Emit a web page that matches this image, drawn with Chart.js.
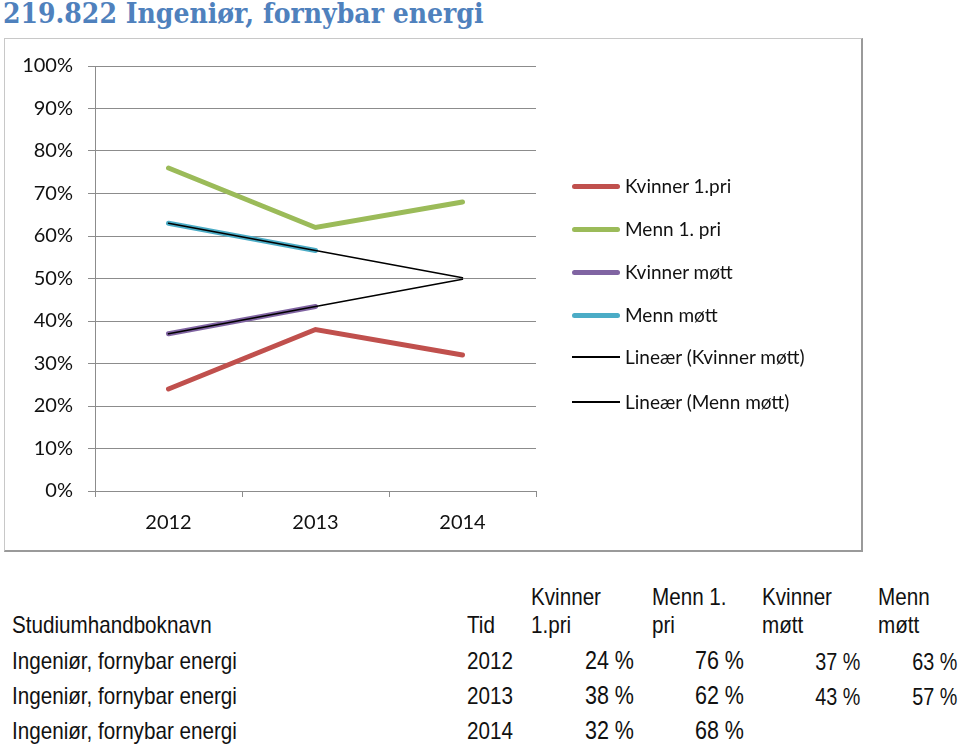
<!DOCTYPE html>
<html>
<head>
<meta charset="utf-8">
<script src="https://cdn.jsdelivr.net/npm/chart.js@4.4.1/dist/chart.umd.min.js"></script>
<style>
  body { margin: 0; background: #fff; }
  #page { position: relative; width: 960px; height: 745px; overflow: hidden; }
  #title {
    position: absolute; left: 3px; top: -3px; white-space: nowrap;
    font-family: "DejaVu Serif Condensed", "DejaVu Serif", serif; font-weight: bold;
    font-size: 28px; color: #4f81bd;
  }
  #frame {
    position: absolute; left: 4px; top: 38px; width: 856px; height: 511px;
    border-left: 1px solid #c8c8c8; border-top: 1px solid #c8c8c8;
    border-right: 2px solid #9a9a9a; border-bottom: 2px solid #9a9a9a;
  }
  #chart { position: absolute; left: 5px; top: 39px; }
  .leg { position: absolute; left: 572px; font-family: Lato, sans-serif; font-size: 19px; color: #111; }
  .leg i { position: absolute; left: 0; width: 48px; border-radius: 3px; }
  .leg span { position: absolute; left: 53px; top: -12px; white-space: nowrap; }
  .cell { position: absolute; white-space: nowrap; line-height: 1;
    font-family: "Liberation Sans", Arial, sans-serif; color: #111; }
</style>
</head>
<body>
<div id="page">
  <div id="title">219.822 Ingeniør, fornybar energi</div>
  <div id="frame"></div>
  <canvas id="chart" width="855" height="510"></canvas>
  <div id="legend"></div>
  <div id="table"></div>
</div>
<script>
// chart data
const years = ['2012', '2013', '2014'];
const kvinner1pri = [24, 38, 32];
const menn1pri = [76, 62, 68];
const kvinnerMott = [37.0, 43.4, null];
const mennMott = [63.0, 56.6, null];
const trendKvinner = [37.0, 43.4, 49.8];
const trendMenn = [63.0, 56.6, 50.2];
const yTicks = [0, 10, 20, 30, 40, 50, 60, 70, 80, 90, 100];

const seriesNames = ['Kvinner 1.pri', 'Menn 1. pri', 'Kvinner møtt', 'Menn møtt', 'Lineær (Kvinner møtt)', 'Lineær (Menn møtt)'];
const seriesColors = ['#c0504d', '#9bbb59', '#8064a2', '#4bacc6', '#000000', '#000000'];
const studyName = 'Ingeniør, fornybar energi';

function lineSet(i, data, width, order) {
    return {
        label: seriesNames[i],
        data: data,
        borderColor: seriesColors[i],
        borderWidth: width,
        borderCapStyle: 'round',
        pointRadius: 0,
        tension: 0,
        spanGaps: false,
        order: order
    };
}

new Chart(document.getElementById('chart'), {
    type: 'line',
    data: {
        labels: years,
        datasets: [
            lineSet(0, kvinner1pri, 5, 5),
            lineSet(1, menn1pri, 5, 5),
            lineSet(2, kvinnerMott, 5, 5),
            lineSet(3, mennMott, 5, 5),
            lineSet(4, trendKvinner, 1.5, 1),
            lineSet(5, trendMenn, 1.5, 1)
        ]
    },
    options: {
        responsive: false,
        animation: false,
        layout: { padding: { left: 15, top: 24, right: 324, bottom: 15 } },
        plugins: { legend: { display: false }, tooltip: { enabled: false } },
        scales: {
            x: {
                offset: true,
                grid: { offset: true, drawOnChartArea: false, tickLength: 6, color: '#8c8c8c' },
                border: { color: '#8c8c8c' },
                ticks: { color: '#111', padding: 14, font: { family: 'Lato', size: 20 } },
                afterFit: s => { s.height = 43; }
            },
            y: {
                min: 0, max: 100,
                afterBuildTicks: s => { s.ticks = yTicks.map(v => ({ value: v })); },
                grid: { tickLength: 7, color: '#8c8c8c' },
                border: { color: '#8c8c8c' },
                ticks: { color: '#111', padding: 15, font: { family: 'Lato', size: 20 }, callback: v => v + '%' },
                afterFit: s => { s.width = 75; }
            }
        }
    }
});

// legend
const legendY = [186, 229, 272, 315, 357, 402];
const legendEl = document.getElementById('legend');
seriesNames.forEach((name, i) => {
    const item = document.createElement('div');
    item.className = 'leg';
    item.style.top = legendY[i] + 'px';
    const thick = i < 4 ? 5 : 1.5;
    item.innerHTML = `<i style="top:${-thick / 2}px;height:${thick}px;background:${seriesColors[i]};${i < 4 ? '' : 'border-radius:0'}"></i><span>${name}</span>`;
    legendEl.appendChild(item);
});

// table below chart (narrow look: Liberation Sans squeezed horizontally)
const tableEl = document.getElementById('table');
function cell(text, x, cy, opts = {}) {
    const d = document.createElement('div');
    d.className = 'cell';
    const size = opts.size || 24;
    d.style.fontSize = size + 'px';
    d.style.top = (cy - size / 2) + 'px';
    if (opts.right) {
        d.style.right = (960 - x) + 'px';
        d.style.transformOrigin = 'right center';
    } else {
        d.style.left = x + 'px';
        d.style.transformOrigin = 'left center';
    }
    d.style.transform = 'scaleX(0.86)';
    d.textContent = text;
    tableEl.appendChild(d);
}
cell('Kvinner', 531, 597); cell('Menn 1.', 652, 597); cell('Kvinner', 762, 597); cell('Menn', 878, 597);
cell('Studiumhandboknavn', 12, 625); cell('Tid', 467, 625); cell('1.pri', 531, 625);
cell('pri', 652, 625); cell('møtt', 762, 625); cell('møtt', 878, 625);
const rowY = [661, 696, 731];
const pct = v => Math.round(v) + ' %';
years.forEach((yr, r) => {
    cell(studyName, 12, rowY[r]);
    cell(yr, 467, rowY[r]);
    cell(pct(kvinner1pri[r]), 634, rowY[r] - 1, { right: true, size: 25 });
    cell(pct(menn1pri[r]), 744, rowY[r] - 1, { right: true, size: 25 });
    if (kvinnerMott[r] !== null) cell(pct(kvinnerMott[r]), 860, rowY[r] + 1, { right: true, size: 23 });
    if (mennMott[r] !== null) cell(pct(mennMott[r]), 957, rowY[r] + 1, { right: true, size: 23 });
});
</script>
</body>
</html>
